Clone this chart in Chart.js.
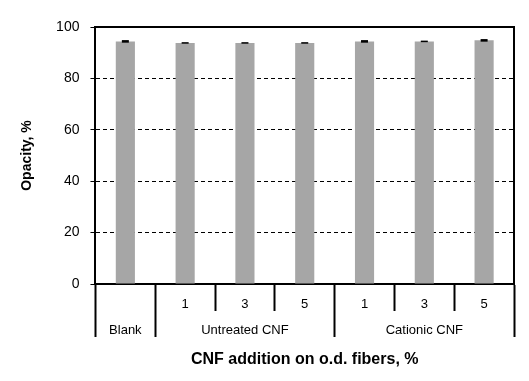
<!DOCTYPE html>
<html>
<head>
<meta charset="utf-8">
<script src="https://cdn.jsdelivr.net/npm/chart.js@4"></script>
<style>
  html, body { margin: 0; padding: 0; background: #fff; }
  #wrap { width: 529px; height: 381px; }
</style>
</head>
<body>
<div id="wrap"><canvas id="chart"></canvas></div>
<script>
// --- Data ---
const numberLabels = ['', '1', '3', '5', '1', '3', '5'];
const groupLabels = ['Blank', '', 'Untreated CNF', '', '', 'Cationic CNF', ''];
const groupBoundaries = [0, 1, 4]; // grid line index where a group starts (end edge added separately)
const opacity = [94.4, 93.8, 93.8, 93.8, 94.4, 94.4, 94.8];
const opacityErr = [0.5, 0.3, 0.3, 0.3, 0.5, 0.3, 0.5];
const yTicks = [0, 20, 40, 60, 80, 100];

const FONT = "'Liberation Sans', Arial, sans-serif";
const labels = numberLabels.map((n, i) => [n, groupLabels[i]]);

// small black error caps on top of each bar
const errorBars = {
    id: 'errorBars',
    afterDatasetsDraw(chart) {
        const { ctx, scales: { y } } = chart;
        const meta = chart.getDatasetMeta(0);
        ctx.save();
        ctx.fillStyle = '#000';
        meta.data.forEach((bar, i) => {
            const top = y.getPixelForValue(opacity[i] + opacityErr[i]);
            const bot = y.getPixelForValue(opacity[i] - opacityErr[i]);
            const h = Math.max(bot - top, 1.5);
            ctx.fillRect(bar.x - 3.5, (top + bot) / 2 - h / 2, 7, h);
        });
        ctx.restore();
    }
};

new Chart(document.getElementById('chart'), {
    type: 'bar',
    data: {
        labels: labels,
        datasets: [{
            data: opacity,
            backgroundColor: '#A6A6A6',
            borderWidth: 0,
            barPercentage: 0.32,
            categoryPercentage: 1
        }]
    },
    options: {
        responsive: true,
        maintainAspectRatio: false,
        animation: false,
        events: [],
        layout: { padding: { top: 27, right: 15, left: 8.3, bottom: 8.6 } },
        plugins: { legend: { display: false }, tooltip: { enabled: false } },
        scales: {
            x: {
                position: 'bottom',
                grid: {
                    drawOnChartArea: false,
                    tickLength: 53,
                    tickWidth: 2,
                    tickColor: '#000',
                    color: '#000',
                    // inner separators only run through the number row
                    tickBorderDash: (c) => (c.index === undefined || groupBoundaries.includes(c.index)) ? [] : [26, 200]
                },
                border: { display: true, color: '#000', width: 2 },
                ticks: {
                    autoSkip: false,
                    maxRotation: 0,
                    padding: -46,
                    color: '#000',
                    font: { family: FONT, size: 13, lineHeight: 2 }
                },
                title: {
                    display: true,
                    text: 'CNF addition on o.d. fibers, %',
                    color: '#000',
                    font: { family: FONT, size: 16, weight: 'bold' },
                    padding: { top: 53.2, bottom: 3 }
                }
            },
            xTop: {
                type: 'category',
                position: 'top',
                grid: { display: false, drawTicks: false },
                ticks: { display: false },
                border: { display: true, color: '#000', width: 2 }
            },
            y: {
                min: 0,
                max: 100,
                afterBuildTicks: (axis) => { axis.ticks = yTicks.map(v => ({ value: v })); },
                grid: {
                    color: '#000',
                    lineWidth: 1,
                    tickLength: 5,
                    tickWidth: 1,
                    tickColor: '#000',
                    tickBorderDash: []
                },
                border: { display: true, color: '#000', width: 2, dash: [4, 3] },
                ticks: {
                    padding: 11,
                    color: '#000',
                    font: { family: FONT, size: 14 }
                },
                title: {
                    display: true,
                    text: 'Opacity, %',
                    color: '#000',
                    font: { family: FONT, size: 14, weight: 'bold' },
                    padding: { top: 10.3, bottom: 9.7 }
                }
            },
            yRight: {
                position: 'right',
                min: 0,
                max: 100,
                grid: { display: false, drawTicks: false },
                ticks: { display: false },
                border: { display: true, color: '#000', width: 2 }
            }
        }
    },
    plugins: [errorBars]
});
</script>
</body>
</html>
